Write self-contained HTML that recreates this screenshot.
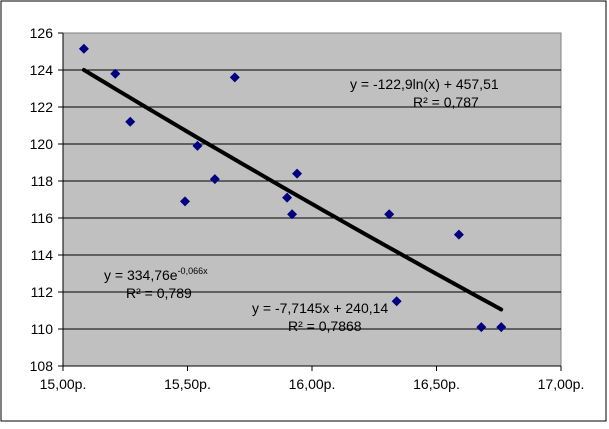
<!DOCTYPE html>
<html><head><meta charset="utf-8"><style>
body{margin:0;background:#fff;width:609px;height:424px;overflow:hidden;font-family:"Liberation Sans",sans-serif}
</style></head><body>
<svg width="609" height="424" style="font-family:'Liberation Sans',sans-serif">
<rect x="1" y="1" width="605" height="420" fill="#fff" stroke="#000" stroke-width="1"/>
<rect x="63" y="33" width="498" height="333" fill="#c0c0c0" stroke="#808080"/>
<g id="grid"></g><g id="axes"></g><g id="trend"></g><g id="pts"></g>
<text x="350" y="89" font-size="14">y = -122,9ln(x)  + 457,51</text>
<text x="413" y="107" font-size="14">R² = 0,787</text>
<text x="104" y="280" font-size="14">y = 334,76e<tspan font-size="9" dy="-6">-0,066x</tspan></text>
<text x="126" y="298" font-size="14">R² = 0,789</text>
<text x="252" y="313" font-size="14">y = -7,7145x  + 240,14</text>
<text x="288" y="331" font-size="14">R² = 0,7868</text>
</svg>
<script>
const xs=[15.084,15.21,15.27,15.54,15.49,15.61,15.69,15.90,15.92,15.94,16.31,16.34,16.59,16.68,16.76];
const ys=[125.15,123.8,121.2,119.9,116.9,118.1,123.6,117.1,116.2,118.4,116.2,111.5,115.1,110.1,110.1];
const yTicks=[108,110,112,114,116,118,120,122,124,126];
const xTicks=[15,15.5,16,16.5,17];
const xLabels=["15,00р.","15,50р.","16,00р.","16,50р.","17,00р."];
const NS="http://www.w3.org/2000/svg";
const X=v=>63+(v-15)*249, Y=v=>366-(v-108)*18.5;
function mk(t,a,p){const e=document.createElementNS(NS,t);for(const k in a)e.setAttribute(k,a[k]);document.getElementById(p).appendChild(e);return e;}
yTicks.forEach(v=>{
 if(v>108&&v<126){const l=mk('line',{x1:63,x2:561,y1:Y(v),y2:Y(v),stroke:'#000','stroke-width':1},'grid');
 
 }
 const t=mk('line',{x1:58,x2:63,y1:Y(v),y2:Y(v),stroke:'#000'},'axes');
 
 
 const tx=mk('text',{x:53,y:Y(v)+5,'font-size':14,'text-anchor':'end'},'axes');tx.textContent=v;
 
 
});
xTicks.forEach((v,i)=>{
 const t=mk('line',{x1:X(v),x2:X(v),y1:366,y2:371,stroke:'#000'},'axes');
 
 
 const tx=mk('text',{x:X(v),y:389,'font-size':14,'text-anchor':'middle'},'axes');tx.textContent=xLabels[i];
 
 
});
const a1=mk('line',{x1:63,x2:63,y1:33,y2:366,stroke:'#000'},'axes');


const a2=mk('line',{x1:63,x2:561,y1:366,y2:366,stroke:'#000'},'axes');


const x0=Math.min(...xs),x1=Math.max(...xs);let d='';
for(let i=0;i<=40;i++){const v=x0+(x1-x0)*i/40;const y=-122.9*Math.log(v)+457.51;d+=(i?'L':'M')+X(v)+' '+Y(y);}
const tr=mk('path',{d:d,stroke:'#000','stroke-width':4,fill:'none','stroke-linecap':'round'},'trend');


xs.forEach((v,i)=>{const cx=X(v),cy=Y(ys[i]);
 const p=mk('polygon',{points:`${cx},${cy-5} ${cx+5},${cy} ${cx},${cy+5} ${cx-5},${cy}`,fill:'#000080'},'pts');
 
 
});
</script>
</body></html>
